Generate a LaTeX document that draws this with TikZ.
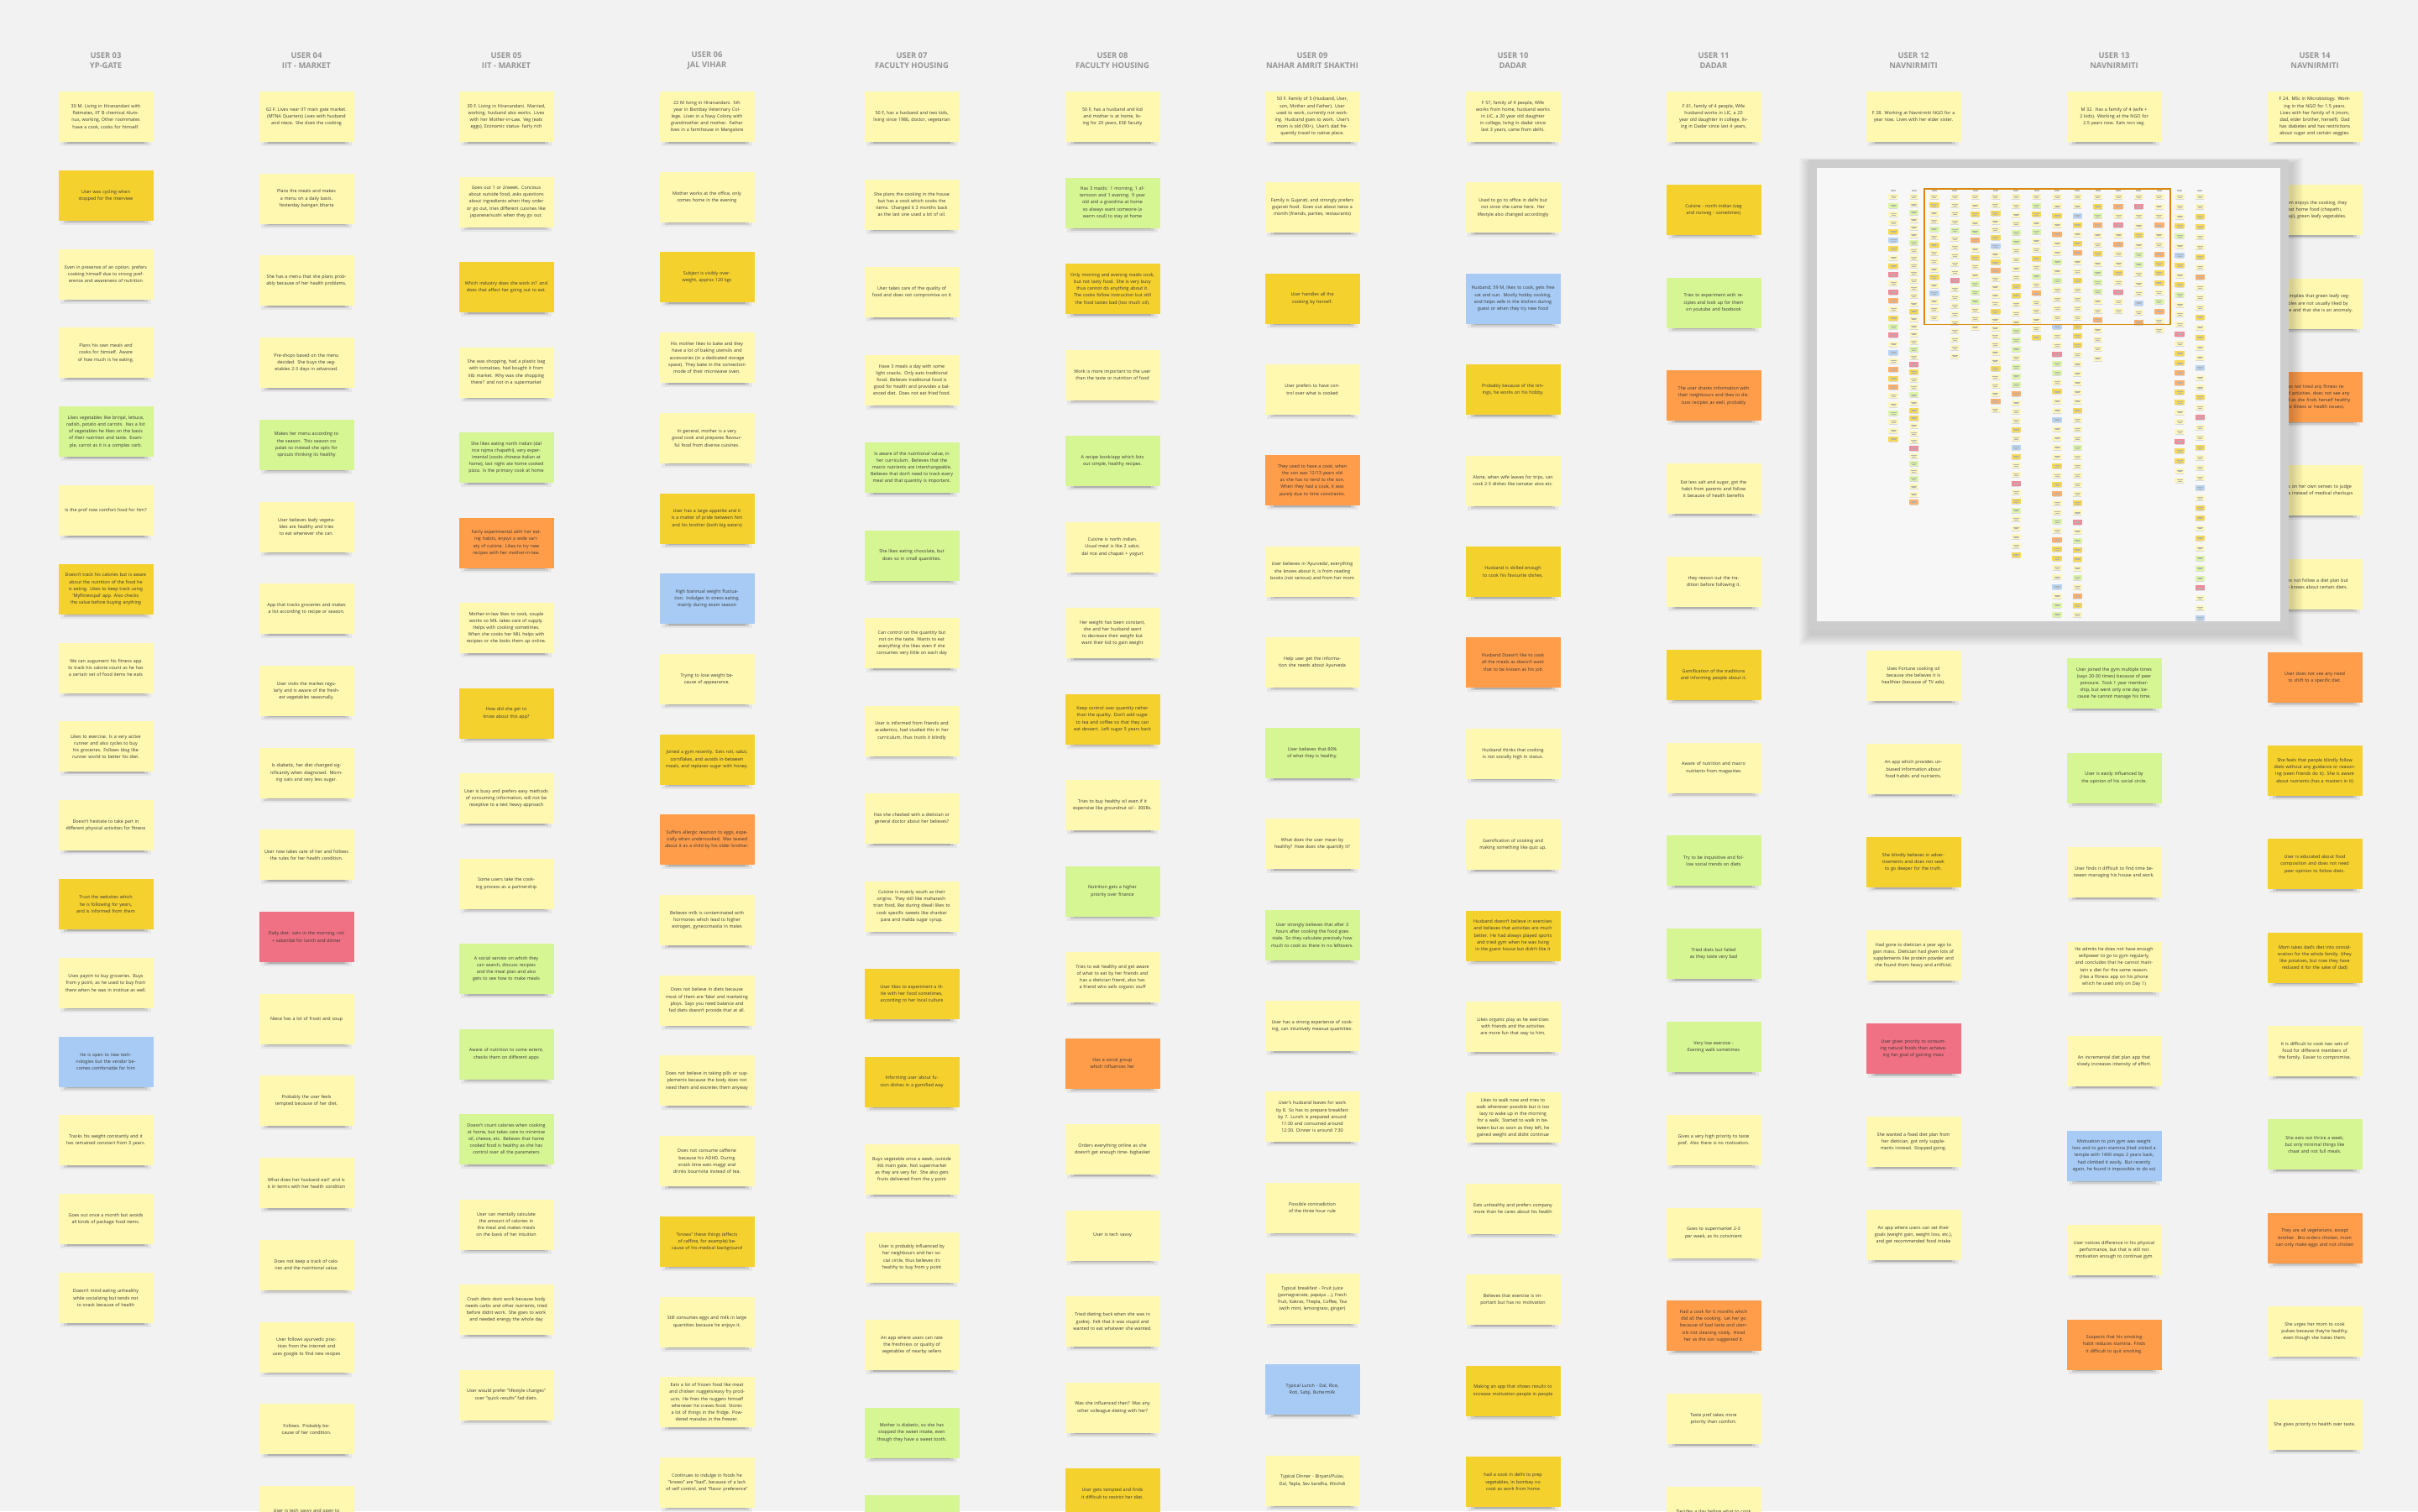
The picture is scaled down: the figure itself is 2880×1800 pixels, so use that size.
\documentclass[tikz,border=0pt]{standalone}
\usepackage{fontspec}
\setmainfont{Open Sans}
\definecolor{bg}{HTML}{F2F2F2}
\definecolor{nW}{HTML}{FFF8B0}
\definecolor{nY}{HTML}{F5D12E}
\definecolor{nG}{HTML}{D6F593}
\definecolor{nB}{HTML}{A7CBF4}
\definecolor{nO}{HTML}{FF9D4A}
\definecolor{nR}{HTML}{EF7183}
\definecolor{ink}{HTML}{353535}
\definecolor{hdrgray}{HTML}{959595}
\definecolor{frame}{HTML}{CDCDCD}
\definecolor{panel}{HTML}{F7F7F7}
\definecolor{viewport}{HTML}{D9890F}

\tikzset{
  note/.style={minimum width=56.5pt, minimum height=30pt, inner sep=0pt,
    text width=50pt, align=center, text=ink,
    font=\fontsize{2.7pt}{4.1pt}\selectfont},
  hdr/.style={align=center, inner sep=0pt, text=hdrgray,
    font=\fontsize{4.7pt}{6pt}\selectfont\bfseries},
}

% one sticky note: row, colour letter, text (column given by \cx, \cp, \colid)
\newcommand\stk[3]{%
  \pgfmathsetmacro\ny{139+#1*\cp}%
  \fill[black,opacity=0.05] ({\cx-54},{\ny+28}) rectangle ({\cx+54},{\ny+35});
  \fill[black,opacity=0.10] ({\cx-50},{\ny+28}) rectangle ({\cx+50},{\ny+33});
  \fill[black,opacity=0.14] ({\cx-46},{\ny+29}) rectangle ({\cx+46},{\ny+31.5});
  \node[note,fill=n#2] (u\colid-#1) at (\cx,\ny) {#3};
}

% one column of the overview map: column number, row pitch, colour letters
\newcommand\minicol[3]{%
  \pgfmathsetmacro\mx{2255.2+(#1-1)*24.35}%
  \fill[hdrgray!60] ({\mx-3},226.4) rectangle ({\mx+3},227.8);
  \foreach \cl [count=\i from 0] in {#3} {%
    \pgfmathsetmacro\my{234.4+\i*#2}%
    \fill[black,opacity=0.12] ({\mx-5},{\my+3}) rectangle ({\mx+5},{\my+3.9});
    \fill[n\cl,opacity=0.8] ({\mx-5.75},{\my-3}) rectangle ({\mx+5.75},{\my+3});
    \draw[black!30, line width=0.15pt] ({\mx-3.5},{\my-0.8}) -- ({\mx+3.5},{\my-0.8});
    \draw[black!30, line width=0.15pt] ({\mx-2.5},{\my+0.8}) -- ({\mx+2.5},{\my+0.8});
  }%
}

\begin{document}
\begin{tikzpicture}[x=0.5pt, y=-0.5pt]
\useasboundingbox (0,0) rectangle (2880,1800);
\clip (0,0) rectangle (2880,1800);
\fill[bg] (0,0) rectangle (2880,1800);

% ---------- column headers ----------
\node[hdr] (h1)  at (126,72)  {USER 03\\YP-GATE};
\node[hdr] (h2)  at (365,72)  {USER 04\\IIT - MARKET};
\node[hdr] (h3)  at (603,72)  {USER 05\\IIT - MARKET};
\node[hdr] (h4)  at (842,72)  {USER 06\\JAL VIHAR};
\node[hdr] (h5)  at (1086,72) {USER 07\\FACULTY HOUSING};
\node[hdr] (h6)  at (1325,72) {USER 08\\FACULTY HOUSING};
\node[hdr] (h7)  at (1563,72) {USER 09\\NAHAR AMRIT SHAKTHI};
\node[hdr] (h8)  at (1802,72) {USER 10\\DADAR};
\node[hdr] (h9)  at (2041,72) {USER 11\\DADAR};
\node[hdr] (h10) at (2279,72) {USER 12\\NAVNIRMITI};
\node[hdr] (h11) at (2518,72) {USER 13\\NAVNIRMITI};
\node[hdr] (h12) at (2757,72) {USER 14\\NAVNIRMITI};

% ---------- USER 03 ----------
\def\colid{1}\def\cx{126}\def\cp{93.8}
\stk{0}{W}{30 M. Living in Hiranandani with flatmates, IIT B chemical Alumnus, working, Other roommates have a cook, cooks for himself.}
\stk{1}{Y}{User was cycling when stopped for the interview}
\stk{2}{W}{Even in presence of an option, prefers cooking himself due to strong preference and awareness of nutrition}
\stk{3}{W}{Plans his own meals and cooks for himself. Aware of how much is he eating.}
\stk{4}{G}{Likes vegetables like brinjal, lettuce, radish, potato and carrots. Has a list of vegetables he likes on the basis of their nutrition and taste. Example, carrot as it is a complex carb.}
\stk{5}{W}{Is the prof now comfort food for him?}
\stk{6}{Y}{Doesn't track his calories but is aware about the nutrition of the food he is eating. Likes to keep track using 'Myfitnesspal' app. Also checks the value before buying anything}
\stk{7}{W}{We can augument his fitness app to track his calorie count as he has a certain set of food items he eats}
\stk{8}{W}{Likes to exercise. Is a very active runner and also cycles to buy his groceries. Follows blog like runner world to better his diet.}
\stk{9}{W}{Doesn't hesitate to take part in different physical activities for fitness}
\stk{10}{Y}{Trust the websites which he is following for years, and is informed from them}
\stk{11}{W}{Uses paytm to buy groceries. Buys from y point, as he used to buy from there when he was in institue as well.}
\stk{12}{B}{He is open to new technologies but the vendor becomes comfortable for him}
\stk{13}{W}{Tracks his weight constantly and it has remained constant from 3 years.}
\stk{14}{W}{Goes out once a month but avoids all kinds of package food items.}
\stk{15}{W}{Doesn't mind eating unhealthy while socializing but tends not to snack because of health}

% ---------- USER 04 ----------
\def\colid{2}\def\cx{365}\def\cp{97.7}
\stk{0}{W}{62 F. Lives near IIT main gate market. (MTNA Quarters) Lives with husband and niece. She does the cooking}
\stk{1}{W}{Plans the meals and makes a menu on a daily basis. Yesterday baingan bharta}
\stk{2}{W}{She has a menu that she plans probably because of her health problems.}
\stk{3}{W}{Pre-shops based on the menu decided. She buys the vegetables 2-3 days in advanced.}
\stk{4}{G}{Makes her menu according to the season. This season no palak so instead she opts for sprouts thinking its healthy}
\stk{5}{W}{User believes leafy vegetables are healthy and tries to eat whenever she can.}
\stk{6}{W}{App that tracks groceries and makes a list according to recipe or season.}
\stk{7}{W}{User visits the market regularly and is aware of the freshest vegetables seasonally.}
\stk{8}{W}{Is diabetic, her diet changed significantly when diagnosed. Morning oats and very less sugar.}
\stk{9}{W}{User now takes care of her and follows the rules for her health condition.}
\stk{10}{R}{Daily diet: oats in the morning, roti + sabzi/dal for lunch and dinner}
\stk{11}{W}{Niece has a lot of frooti and soup}
\stk{12}{W}{Probably the user feels tempted because of her diet.}
\stk{13}{W}{What does her husband eat? and is it in terms with her health condition}
\stk{14}{W}{Does not keep a track of calories and the nutritional value.}
\stk{15}{W}{User follows ayurvedic practices from the internet and uses google to find new recipes}
\stk{16}{W}{Follows. Probably because of her condition.}
\stk{17}{W}{User is tech savvy and open to}

% ---------- USER 05 ----------
\def\colid{3}\def\cx{603}\def\cp{101.5}
\stk{0}{W}{30 F. Living in Hiranandani. Married, working, husband also works. Lives with her Mother-in-Law. Veg (eats eggs), Economic status- fairly rich}
\stk{1}{W}{Goes out 1 or 2/week. Concious about outside food, asks questions about ingredients when they order or go out, tries different cuisines like japanese/sushi when they go out.}
\stk{2}{Y}{Which industry does she work in? and does that affect her going out to eat.}
\stk{3}{W}{She was shopping, had a plastic bag with tomatoes, had bought it from iitb market. Why was she shopping there? and not in a supermarket}
\stk{4}{G}{She likes eating north indian (dal rice rajma chapathi), very experimental (cooks chinese italian at home), last night ate home cooked pizza. Is the primary cook at home}
\stk{5}{O}{Fairly experimental with her eating habits, enjoys a wide variety of cuisine. Likes to try new recipes with her mother-in-law.}
\stk{6}{W}{Mother-in-law likes to cook, couple works so MIL takes care of supply. Helps with cooking sometimes. When she cooks her MIL helps with recipies or she looks them up online.}
\stk{7}{Y}{How did she get to know about this app?}
\stk{8}{W}{User is busy and prefers easy methods of consuming information, will not be receptive to a text heavy approach}
\stk{9}{W}{Some users take the cooking process as a partnership}
\stk{10}{G}{A social service on which they can search, discuss recipies and the meal plan and also gets to see how to make meals}
\stk{11}{G}{Aware of nutrition to some extent, checks them on different apps}
\stk{12}{G}{Doesn't count calories when cooking at home, but takes care to minimise oil, cheese, etc. Believes that home cooked food is healthy as she has control over all the parameters}
\stk{13}{W}{User can mentally calculate the amount of calories in the meal and makes meals on the basis of her intuition}
\stk{14}{W}{Crash diets dont work because body needs carbs and other nutrients, tried before didnt work. She goes to work and needed energy the whole day}
\stk{15}{W}{User would prefer "lifestyle changes" over "quick results" fad diets.}

% ---------- USER 06 ----------
\def\colid{4}\def\cx{842}\def\cp{95.7}
\stk{0}{W}{22 M living in Hiranandani. 5th year in Bombay Veterinary College. Lives in a Navy Colony with grandmother and mother. Father lives in a farmhouse in Mangalore}
\stk{1}{W}{Mother works at the office, only comes home in the evening}
\stk{2}{Y}{Subject is visibly overweight, approx 120 kgs}
\stk{3}{W}{His mother likes to bake and they have a lot of baking utensils and accessories (in a dedicated storage space). They bake in the convection mode of their microwave oven.}
\stk{4}{W}{In general, mother is a very good cook and prepares flavourful food from diverse cuisines.}
\stk{5}{Y}{User has a large appetite and it is a matter of pride between him and his brother (both big eaters)}
\stk{6}{B}{High biannual weight fluctuation. Indulges in stress eating, mainly during exam season}
\stk{7}{W}{Trying to lose weight because of appearance.}
\stk{8}{Y}{Joined a gym recently. Eats roti, sabzi, cornflakes, and avoids in-between meals, and replaces sugar with honey.}
\stk{9}{O}{Suffers allergic reaction to eggs, especially when undercooked. Was teased about it as a child by his older brother.}
\stk{10}{W}{Believes milk is contaminated with hormones which lead to higher estrogen, gynecomastia in males}
\stk{11}{W}{Does not believe in diets because most of them are 'fake' and marketing ploys. Says you need balance and fad diets doesn't provide that at all.}
\stk{12}{W}{Does not believe in taking pills or supplements because the body does not need them and excretes them anyway}
\stk{13}{W}{Does not consume caffeine because his ADHD. During snack time eats maggi and drinks bournvita instead of tea.}
\stk{14}{Y}{"knows" these things (effects of caffine, for example) because of his medical background}
\stk{15}{W}{Still consumes eggs and milk in large quantities because he enjoys it.}
\stk{16}{W}{Eats a lot of frozen food like meat and chicken nuggets/easy fry products. He fries the nuggets himself whenever he craves food. Stores a lot of things in the fridge. Powdered masalas in the freezer.}
\stk{17}{W}{Continues to indulge in foods he "knows" are "bad", because of a lack of self control, and "flavor preference"}

% ---------- USER 07 ----------
\def\colid{5}\def\cx{1086}\def\cp{104.5}
\stk{0}{W}{50 F, has a husband and two kids, living since 1986, doctor, vegetarian}
\stk{1}{W}{She plans the cooking in the house but has a cook which cooks the items. Changed it 3 months back as the last one used a lot of oil.}
\stk{2}{W}{User takes care of the quality of food and does not compromise on it}
\stk{3}{W}{Have 3 meals a day with some light snacks. Only eats traditional food. Believes traditional food is good for health and provides a balanced diet. Does not eat fried food.}
\stk{4}{G}{Is aware of the nutritional value, in her curriculum. Believes that the macro nutrients are interchangeable. Believes that don't need to track every meal and that quantity is important.}
\stk{5}{G}{She likes eating chocolate, but does so in small quantities.}
\stk{6}{W}{Can control on the quantity but not on the taste. Wants to eat everything she likes even if she consumes very little on each day}
\stk{7}{W}{User is informed from friends and academics, had studied this in her curriculum, thus trusts it blindly}
\stk{8}{W}{Has she checked with a dietician or general doctor about her believes?}
\stk{9}{W}{Cuisine is mainly south as their origins. They still like maharashtrian food, like during diwali likes to cook specific sweets like shankar para and malda sugar syrup.}
\stk{10}{Y}{User likes to experiment a little with her food sometimes, according to her local culture}
\stk{11}{Y}{Informing user about fusion dishes in a gamified way}
\stk{12}{W}{Buys vegetable once a week, outside iitb main gate. Not supermarket as they are very far. She also gets fruits delivered from the y point}
\stk{13}{W}{User is probably influenced by her neighbours and her social circle, thus believes it's healthy to buy from y point}
\stk{14}{W}{An app where users can rate the freshness or quality of vegetables of nearby sellers}
\stk{15}{G}{Mother is diabetic, so she has stopped the sweet intake, even though they have a sweet tooth.}
\stk{16}{G}{}

% ---------- USER 08 ----------
\def\colid{6}\def\cx{1325}\def\cp{102.5}
\stk{0}{W}{50 F, has a husband and kid and mother is at home, living for 20 years, ESE faculty}
\stk{1}{G}{Has 3 maids: 1 morning, 1 afternoon and 1 evening. 9 year old and a grandma at home so always want someone (a warm soul) to stay at home}
\stk{2}{Y}{Only morning and evening maids cook, but not tasty food. She is very busy thus cannot do anything about it. The cooks follow instruction but still the food tastes bad (too much oil).}
\stk{3}{W}{Work is more important to the user than the taste or nutrition of food}
\stk{4}{G}{A recipe book/app which lists out simple, healthy recipes.}
\stk{5}{W}{Cuisine is north indian. Usual meal is like 2 sabzi, dal rice and chapati + yogurt}
\stk{6}{W}{Her weight has been constant, she and her husband want to decrease their weight but want their kid to gain weight}
\stk{7}{Y}{Keep control over quantity rather than the quality. Don't add sugar to tea and coffee so that they can eat dessert. Left sugar 5 years back}
\stk{8}{W}{Tries to buy healthy oil even if it expensive like groundnut oil - 300Rs.}
\stk{9}{G}{Nutrition gets a higher priority over finance}
\stk{10}{W}{Tries to eat healthy and get aware of what to eat by her friends and has a dietician friend, also has a friend who sells organic stuff}
\stk{11}{O}{Has a social group which influences her}
\stk{12}{W}{Orders everything online as she doesn't get enough time- bigbasket}
\stk{13}{W}{User is tech savvy}
\stk{14}{W}{Tried dieting back when she was in godrej. Felt that it was stupid and wanted to eat whatever she wanted.}
\stk{15}{W}{Was she influenced then? Was any other colleague dieting with her?}
\stk{16}{Y}{User gets tempted and finds it difficult to restrict her diet.}

% ---------- USER 09 ----------
\def\colid{7}\def\cx{1563}\def\cp{108.3}
\stk{0}{W}{50 F. Family of 5 (Husband, User, son, Mother and Father). User used to work, currently not working. Husband goes to work. User's mom is old (90+). User's dad frequently travel to native place.}
\stk{1}{W}{Family is Gujarati, and strongly prefers gujarati food. Goes out about twice a month (friends, parties, restaurants)}
\stk{2}{Y}{User handles all the cooking by herself.}
\stk{3}{W}{User prefers to have control over what is cooked}
\stk{4}{O}{They used to have a cook, when the son was 12/13 years old as she has to tend to the son. When they had a cook, it was purely due to time constraints.}
\stk{5}{W}{User believes in 'Ayurveda', everything she knows about it, is from reading books (not serious) and from her mom}
\stk{6}{W}{Help user get the information she needs about Ayurveda}
\stk{7}{G}{User believes that 80\% of what they is healthy.}
\stk{8}{W}{What does the user mean by healthy? How does she quantify it?}
\stk{9}{G}{User strongly believes that after 3 hours after cooking the food goes stale. So they calculate precisely how much to cook so there in no leftovers.}
\stk{10}{W}{User has a strong experience of cooking, can intuitively measue quantities.}
\stk{11}{W}{User's husband leaves for work by 8. So has to prepare breakfast by 7. Lunch is prepared around 11:30 and consumed around 12:30. Dinner is around 7:30}
\stk{12}{W}{Possible contradiction of the three hour rule}
\stk{13}{W}{Typical breakfast - Fruit Juice (pomegranate, papaya ...), Fresh fruit, Kakras, Thepla, Coffee, Tea (with mint, lemongrass, ginger)}
\stk{14}{B}{Typical Lunch - Dal, Rice, Roti, Sabji, Buttermilk}
\stk{15}{W}{Typical Dinner - Biryani/Pulav, Dal, Tepla, Sev kandha, Khichdi}

% ---------- USER 10 ----------
\def\colid{8}\def\cx{1802}\def\cp{108.4}
\stk{0}{W}{F 57, family of 4 people, Wife works from home, husband works in LIC, a 20 year old daughter in college, living in dadar since last 3 years, came from delhi.}
\stk{1}{W}{Used to go to office in delhi but not since she came here. Her lifestyle also changed accordingly}
\stk{2}{B}{Husband, 59 M, likes to cook, gets free sat and sun. Mostly hobby cooking, and helps wife in the kitchen during guest or when they try new food}
\stk{3}{Y}{Probably because of the timings, he works on his hobby.}
\stk{4}{W}{Alone, when wife leaves for trips, can cook 2-3 dishes like tamatar aloo etc.}
\stk{5}{Y}{Husband is skilled enough to cook his favourite dishes.}
\stk{6}{O}{Husband Doesn't like to cook all the meals as doesn't want that to be known as his job}
\stk{7}{W}{Husband thinks that cooking is not socially high in status.}
\stk{8}{W}{Gamification of cooking and making something like quiz up.}
\stk{9}{Y}{Husband doesn't believe in exercises and believes that activities are much better. He had always played sports and tried gym when he was living in the guest house but didn't like it}
\stk{10}{W}{Likes organic play as he exercises with friends and the activities are more fun that way to him.}
\stk{11}{W}{Likes to walk now and tries to walk whenever possible but is too lazy to wake up in the morning for a walk. Started to walk in between but as soon as they left, he gained weight and didnt continue}
\stk{12}{W}{Eats unhealthy and prefers company more than he cares about his health}
\stk{13}{W}{Believes that exercise is important but has no motivation}
\stk{14}{Y}{Making an app that shows results to increase motivation people in people}
\stk{15}{Y}{had a cook in delhi to prep vegetables, in bombay no cook as work from home}

% ---------- USER 11 ----------
\def\colid{9}\def\cx{2041}\def\cp{110.8}
\stk{0}{W}{F 61, family of 4 people, Wife husband works in LIC, a 20 year old daughter in college, living in Dadar since last 4 years,}
\stk{1}{Y}{Cuisine - north indian (veg and nonveg - sometimes)}
\stk{2}{G}{Tries to experiment with recipies and look up for them on youtube and facebook}
\stk{3}{O}{The user shares information with their neighbours and likes to discuss recipies as well, probably}
\stk{4}{W}{Eat less salt and sugar, got the habit from parents and follow it because of health benefits}
\stk{5}{W}{they reason out the tradition before following it.}
\stk{6}{Y}{Gamification of the traditions and informing people about it.}
\stk{7}{W}{Aware of nutrition and macro nutrients from magazines}
\stk{8}{G}{Try to be inquisitive and follow social trends on diets}
\stk{9}{G}{Tried diets but failed as they taste very bad}
\stk{10}{G}{Very low exercise - Evening walk sometimes}
\stk{11}{W}{Gives a very high priority to taste pref. Also there is no motivation.}
\stk{12}{W}{Goes to supermarket 2-3 per week, as its convinient}
\stk{13}{O}{Had a cook for 6 months which did all the cooking. Let her go because of bad taste and utensils not cleaning nicely. Hired her as the son suggested it.}
\stk{14}{W}{Taste pref takes more priority than comfort.}
\stk{15}{W}{Decides a day before what to cook}

% ---------- USER 12 ----------
\def\colid{10}\def\cx{2279}\def\cp{111}
\stk{0}{W}{F 28. Working at Navnirmiti NGO for a year now. Lives with her elder sister.}
\stk{6}{W}{Uses Fortune cooking oil because she believes it is healthier (because of TV ads).}
\stk{7}{W}{An app which provides unbiased information about food habits and nutrients.}
\stk{8}{Y}{She blindly believes in advertisements and does not seek to go deeper for the truth.}
\stk{9}{W}{Had gone to dietician a year ago to gain mass. Dietician had given lots of supplements like protein powder and she found them heavy and artificial.}
\stk{10}{R}{User gives priority to consuming natural foods than achieveing her goal of gaining mass}
\stk{11}{W}{She wanted a fixed diet plan from her dietician, got only supplements instead. Stopped going.}
\stk{12}{W}{An app where users can set their goals (weight gain, weight loss, etc.), and get recommended food intake}

% ---------- USER 13 ----------
\def\colid{11}\def\cx{2518}\def\cp{112.5}
\stk{0}{W}{M 32. Has a family of 4 (wife + 2 kids). Working at the NGO for 2.5 years now. Eats non veg.}
\stk{6}{G}{User joined the gym multiple times (says 20-30 times) because of peer pressure. Took 1 year membership, but went only one day because he cannot manage his time.}
\stk{7}{G}{User is easily influenced by the opinion of his social circle.}
\stk{8}{W}{User finds it difficult to find time between managing his house and work.}
\stk{9}{W}{He admits he does not have enough willpower to go to gym regularly, and concludes that he cannot maintain a diet for the same reason. (Has a fitness app on his phone which he used only on Day 1)}
\stk{10}{W}{An incremental diet plan app that slowly increases intensity of effort.}
\stk{11}{B}{Motivation to join gym was weight loss and to gain stamina (Had visited a temple with 1400 steps 2 years back, had climbed it easily. But recently again, he found it impossible to do so)}
\stk{12}{W}{User notices difference in his physical performance, but that is still not motivation enough to continue gym}
\stk{13}{O}{Suspects that his smoking habit reduces stamina. Finds it difficult to quit smoking.}

% ---------- USER 14 ----------
\def\colid{12}\def\cx{2757}\def\cp{111.3}
\stk{0}{W}{F 24. MSc in Microbiology. Working in the NGO for 1.5 years. Lives with her family of 4 (mom, dad, elder brother, herself). Dad has diabetes and has restrictions about sugar and certain veggies.}
\stk{1}{W}{Mom enjoys the cooking, they eat home food (chapathi, bhaji), green leafy vegetables.}
\stk{2}{W}{She implies that green leafy vegetables are not usually liked by people and that she is an anomaly.}
\stk{3}{O}{Has not tried any fitness related activities, does not see any need as she finds herself healthy (no illness or health issues).}
\stk{4}{W}{Relies on her own senses to judge fitness instead of medical checkups}
\stk{5}{W}{Does not follow a diet plan but she knows about certain diets.}
\stk{6}{O}{User does not see any need to shift to a specific diet.}
\stk{7}{Y}{She feels that people blindly follow diets without any guidance or reasoning (seen friends do it). She is aware about nutrients (has a masters in it)}
\stk{8}{Y}{User is educated about food composition and does not need peer opinion to follow diets.}
\stk{9}{Y}{Mom takes dad's diet into consideration for the whole family. (they like potatoes, but now they have reduced it for the sake of dad)}
\stk{10}{W}{It is difficult to cook two sets of food for different members of the family. Easier to compromise.}
\stk{11}{G}{She eats out thrice a week, but only minimal things like chaat and not full meals.}
\stk{12}{O}{They are all vegetarians, except brother. Bro orders chicken, mom can only make eggs and not chicken}
\stk{13}{W}{She urges her mom to cook pulses because they're healthy, even though she hates them.}
\stk{14}{W}{She gives priority to health over taste.}

% ---------- overview map ----------
\foreach \k in {1,...,7}
  \fill[black,opacity=0.022] ({2154-2*\k+3},{190-\k+5}) rectangle ({2725.5+2*\k+3},{750+2*\k+5});
\fill[frame] (2154,190) rectangle (2725.5,750);
\fill[panel] (2164,199.6) rectangle (2716,739.7);
\begin{scope}
  \clip (2164,199.6) rectangle (2716,739.7);
  \minicol{1}{10.3}{W,G,W,W,Y,B,Y,W,Y,R,W,R,O,W,Y,G,R,W,B,W,O,Y,O,W,W,G,W,W,Y}
  \minicol{2}{9.08}{W,W,G,W,W,W,G,W,W,W,W,W,W,W,W,Y,W,W,W,W,G,W,R,Y,W,W,G,W,Y,Y,W,W,W,R,W,G,W,G,W,W,O}
  \minicol{3}{9.57}{W,Y,W,W,G,W,Y,W,W,W,Y,W,B,W,W,W}
  \minicol{4}{9.97}{W,W,W,W,G,W,W,W,W,W,R,W,W,W,W,W,W,W,W,W}
  \minicol{5}{10.35}{W,W,Y,W,G,O,W,Y,W,W,G,G,G,W,W,W}
  \minicol{6}{9.76}{W,W,Y,W,W,Y,B,W,Y,O,W,W,W,W,Y,W,W,W,W,W,W,Y,W,W,W,O,W}
  \minicol{7}{10.66}{W,W,W,W,G,G,W,W,W,W,Y,Y,W,W,W,G,G,G,W,G,G,G,O,W,W,W,Y,W,B,Y,W,W,R,W,Y,G,W,W,W,W,Y}
  \minicol{8}{10.46}{W,G,Y,W,G,W,W,Y,W,G,W,O,W,W,W,W,Y}
  \minicol{9}{11.05}{W,W,Y,W,O,W,W,G,W,G,W,W,W,W,B,W,W,R,G,G,W,Y,W,W,B,W,W,W,W,Y,W,Y,O,W,W,G,W,O,Y,Y,W,W,B,W,G,G}
  \minicol{10}{11.06}{W,W,B,Y,W,Y,O,W,W,Y,W,W,W,W,Y,Y,Y,W,W,W,W,W,W,Y,W,W,W,G,W,W,W,W,W,Y,W,R,W,G,Y,Y,W,G,W,O,Y,W}
  \minicol{11}{11.3}{W,Y,G,O,W,W,Y,W,G,G,G,W,W,O,W,W,W,W}
  \minicol{12}{11.32}{W,O,W,R,W,O,W,W,Y,W,R,W,W}
  \minicol{13}{11.48}{W,R,W,W,Y,W,G,G,W,W,W,B,W,O}
  \minicol{14}{11.35}{W,W,W,O,W,W,O,Y,Y,Y,W,G,O,W,W}
  \minicol{15}{11.65}{W,W,W,Y,G,W,B,Y,W,Y,G,W,W,W,R,W,Y,Y,O,O,Y,Y,W,W,W,R,Y,Y,W,W}
  \minicol{16}{11.95}{W,W,Y,Y,W,W,Y,W,O,W,W,W,Y,W,Y,W,W,B,W,W,Y,W,R,W,W,Y,W,W,W,B,W,Y,Y,W,Y,W,G,G,G,R,W,W,B}
\end{scope}
\draw[viewport, line width=0.8pt] (2292,224.8) rectangle (2585,386.4);

\end{tikzpicture}
\end{document}
